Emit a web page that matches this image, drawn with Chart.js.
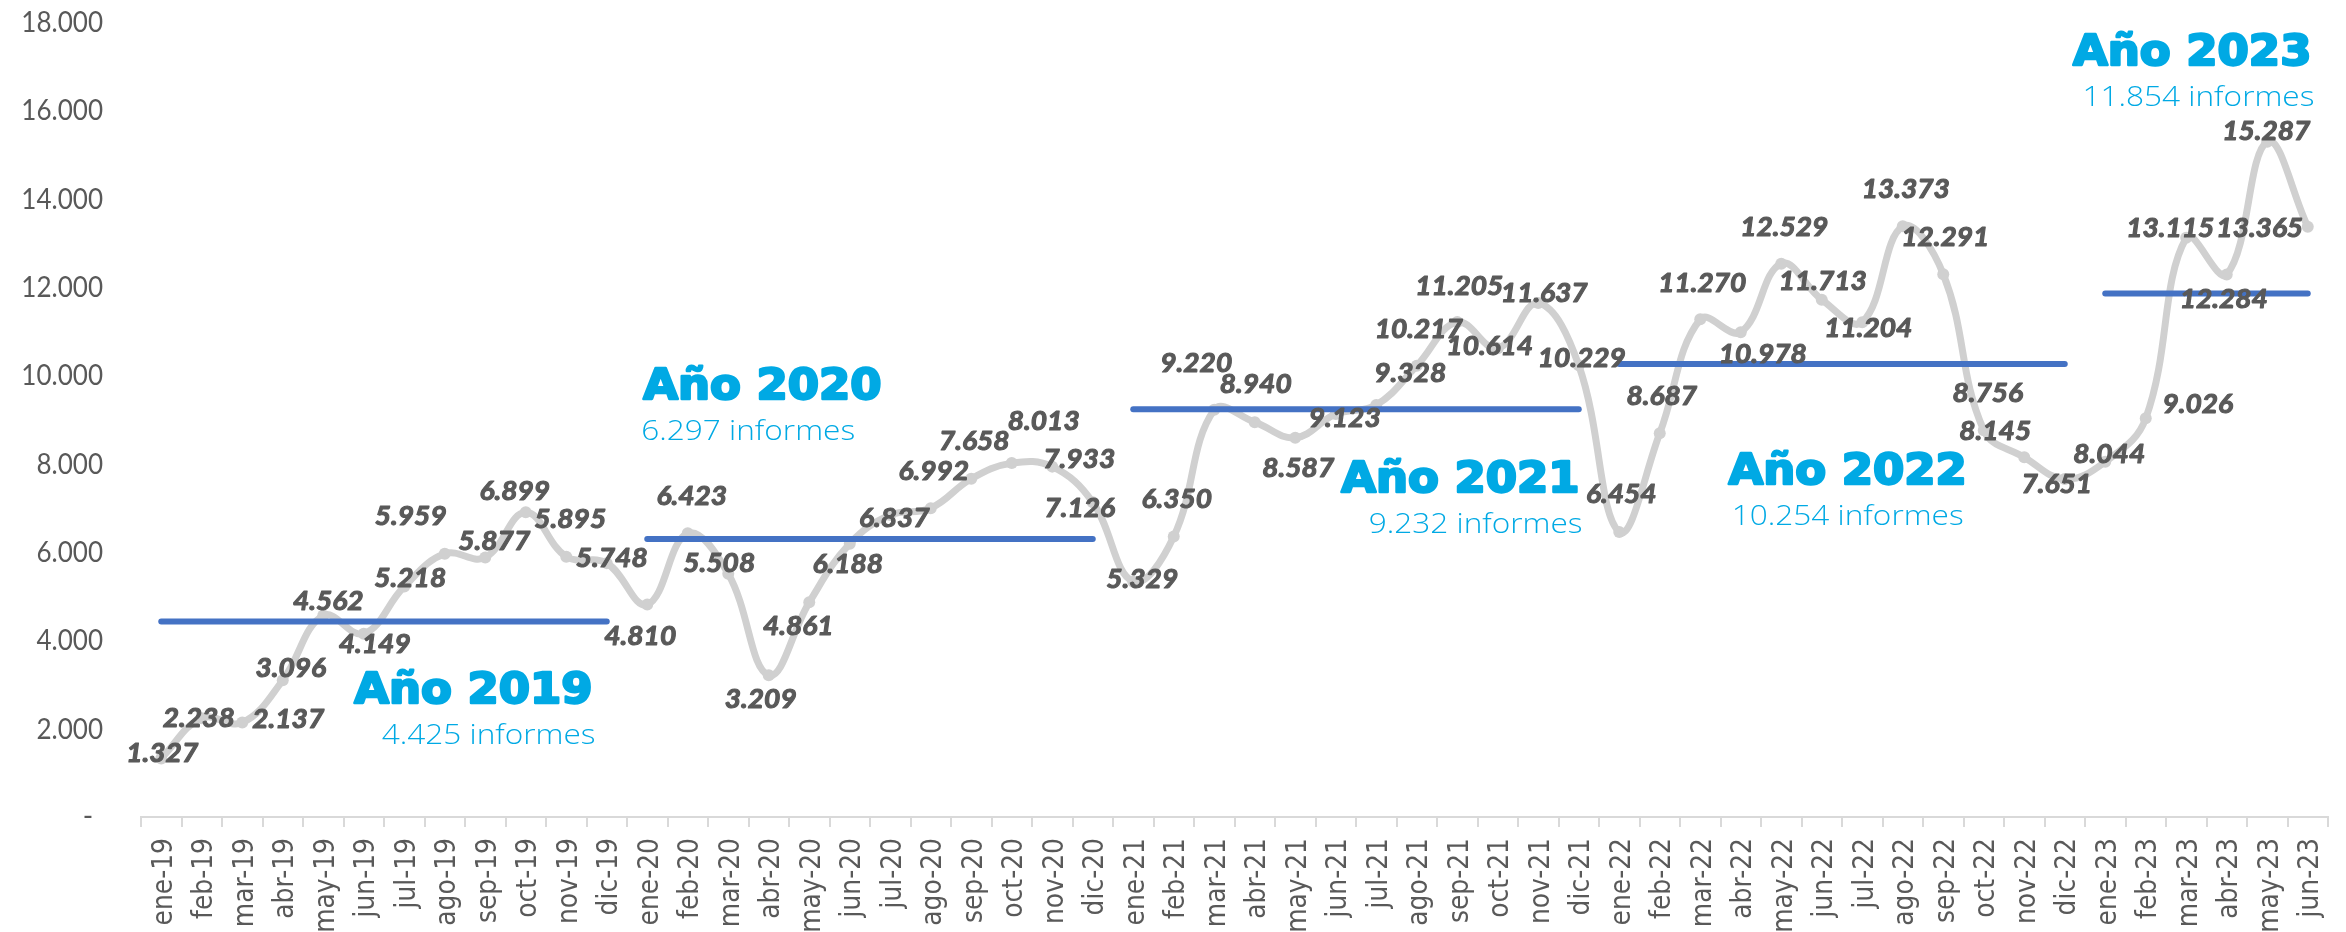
<!DOCTYPE html>
<html><head><meta charset="utf-8">
<script src="https://cdn.jsdelivr.net/npm/chart.js@4.4.1/dist/chart.umd.min.js"></script>
<style>html,body{margin:0;padding:0;background:#fff}#wrap{width:2346px;height:932px}</style>
</head><body><div id="wrap"><canvas id="c" width="2346" height="932"></canvas></div>
<script>
const categories = ['ene-19','feb-19','mar-19','abr-19','may-19','jun-19','jul-19','ago-19','sep-19','oct-19','nov-19','dic-19',
  'ene-20','feb-20','mar-20','abr-20','may-20','jun-20','jul-20','ago-20','sep-20','oct-20','nov-20','dic-20',
  'ene-21','feb-21','mar-21','abr-21','may-21','jun-21','jul-21','ago-21','sep-21','oct-21','nov-21','dic-21',
  'ene-22','feb-22','mar-22','abr-22','may-22','jun-22','jul-22','ago-22','sep-22','oct-22','nov-22','dic-22',
  'ene-23','feb-23','mar-23','abr-23','may-23','jun-23'];
const informes = [1327,2238,2137,3096,4562,4149,5218,5959,5877,6899,5895,5748,
  4810,6423,5508,3209,4861,6188,6837,6992,7658,8013,7933,7126,
  5329,6350,9220,8940,8587,9123,9328,10217,11205,10614,11637,10229,
  6454,8687,11270,10978,12529,11713,11204,13373,12291,8756,8145,7651,
  8044,9026,13115,12284,15287,13365];
const yearNames = ['Año 2019','Año 2020','Año 2021','Año 2022','Año 2023'];
const yearAverages = [4425,6297,9232,10254,11854];
const yearFirstIdx = [0,12,24,36,48];
const yearLastIdx = [11,23,35,47,53];
const yTicks = [0,2000,4000,6000,8000,10000,12000,14000,16000,18000];

// label offsets (px) of each value label's centre from its point — styling only
const labelDx = [1,-3,46,8,5,11,6,-34,9,-11,4,5, -7,4,-9,-8,-11,-2,4,3,3,32,27,-13, 9,3,-18,1,3,9,34,2,2,-8,6,3, 2,2,2,22,3,1,6,3,2,4,-29,-8, 4,52,-16,-3,-1,-48];
const labelDy = [-6,-1,-5,-13,-16,9,-10,-39,-17,-22,-39,-6, 30,-38,-12,23,23,19,2,-38,-39,-43,-9,5, -4,-39,-48,-39,29,3,-33,-38,-37,-3,-11,-8, -39,-38,-37,21,-38,-20,5,-38,-38,-38,-27,4, -9,-15,-11,24,-12,0];
// year caption anchors in data units (category index, value of title baseline) and alignment
const captionIdx = [10.65, 11.9, 35.02, 41.64, 53.09];
const captionVal = [2613, 9486, 7381, 7562, 17048];
const captionAlign = ['right','left','right','center','right'];

const fmt = v => String(v).replace(/\B(?=(\d{3})+(?!\d))/g, '.');
const GRAY = '#D0D0D0', BLUE = '#4472C4', CYAN = '#00A9E4', TXT = '#595959';

function drawText(ctx, txt, x, y, o) {
  ctx.save();
  ctx.translate(x, y);
  if (o.rot) ctx.rotate(o.rot);
  ctx.scale(o.sx || 1, o.sy || 1);
  ctx.font = o.font; ctx.fillStyle = o.color; ctx.textAlign = o.align || 'center';
  ctx.textBaseline = o.baseline || 'alphabetic';
  if (o.stroke) { ctx.strokeStyle = o.color; ctx.lineWidth = o.stroke; ctx.lineJoin = 'round'; ctx.strokeText(txt, 0, 0); }
  ctx.fillText(txt, 0, 0);
  ctx.restore();
}

const avgDatasets = yearAverages.map((a, k) => ({
  data: categories.map((c, i) => (i >= yearFirstIdx[k] && i <= yearLastIdx[k]) ? a : null),
  borderColor: BLUE, borderWidth: 6, pointRadius: 0, tension: 0, borderCapStyle: 'round',
  spanGaps: false, order: 1
}));

const textPlugin = {
  id: 'texts',
  afterDraw(chart) {
    const ctx = chart.ctx;
    const xs = chart.scales.x, ys = chart.scales.y;
    yTicks.forEach(v => {
      const y = ys.getPixelForValue(v);
      if (v === 0) drawText(ctx, '-', 88, y, { font: '28px Lato', color: TXT, baseline: 'middle' });
      else drawText(ctx, fmt(v), 103, y + 10, { font: '28px Lato', color: TXT, align: 'right', sx: 0.93 });
    });
    categories.forEach((c, i) => {
      drawText(ctx, c, xs.getPixelForValue(i) + 3, 838, { font: '25px "DejaVu Sans"', color: TXT, align: 'right',
        baseline: 'middle', rot: -Math.PI / 2, sy: 1.15 });
    });
    const meta = chart.getDatasetMeta(0);
    meta.data.forEach((p, i) => {
      drawText(ctx, fmt(informes[i]), p.x + labelDx[i], p.y + labelDy[i] + 10,
        { font: 'italic bold 27px Lato', color: TXT, sx: 1.04, stroke: 1.1 });
    });
    yearNames.forEach((name, k) => {
      const x = xs.getPixelForValue(captionIdx[k]);
      const y = ys.getPixelForValue(captionVal[k]);
      drawText(ctx, name, x, y + 1, { font: 'bold 42px "DejaVu Sans"', color: CYAN, align: captionAlign[k], sx: 1.07, stroke: 2.4 });
      drawText(ctx, fmt(yearAverages[k]) + ' informes', x + (captionAlign[k] === 'right' ? 3 : captionAlign[k] === 'left' ? -2 : 0), y + 42,
        { font: '300 27px "Open Sans"', color: CYAN, align: captionAlign[k], sx: 1.17 });
    });
  }
};

new Chart(document.getElementById('c'), {
  type: 'line',
  data: {
    labels: categories,
    datasets: [
      { data: informes, borderColor: GRAY, borderWidth: 7, tension: 0.4, pointRadius: 6,
        pointBackgroundColor: GRAY, pointBorderWidth: 0, order: 2, clip: false },
      ...avgDatasets
    ]
  },
  options: {
    responsive: false, animation: false, devicePixelRatio: 1,
    layout: { padding: { top: 22, right: 18, left: 0, bottom: 0 } },
    plugins: { legend: { display: false }, tooltip: { enabled: false } },
    scales: {
      x: {
        offset: true,
        grid: { offset: true, drawOnChartArea: false, color: '#D9D9D9', lineWidth: 2, tickLength: 10 },
        border: { color: '#D9D9D9', width: 2 },
        ticks: { display: false, autoSkip: false },
        afterFit(s) { s.height = 115; }
      },
      y: {
        min: 0, max: 18000,
        afterBuildTicks(s) { s.ticks = yTicks.map(v => ({ value: v })); },
        ticks: { display: false },
        grid: { display: false, drawTicks: false },
        border: { display: false },
        afterFit(s) { s.width = 141; }
      }
    }
  },
  plugins: [textPlugin]
});
</script></body></html>
